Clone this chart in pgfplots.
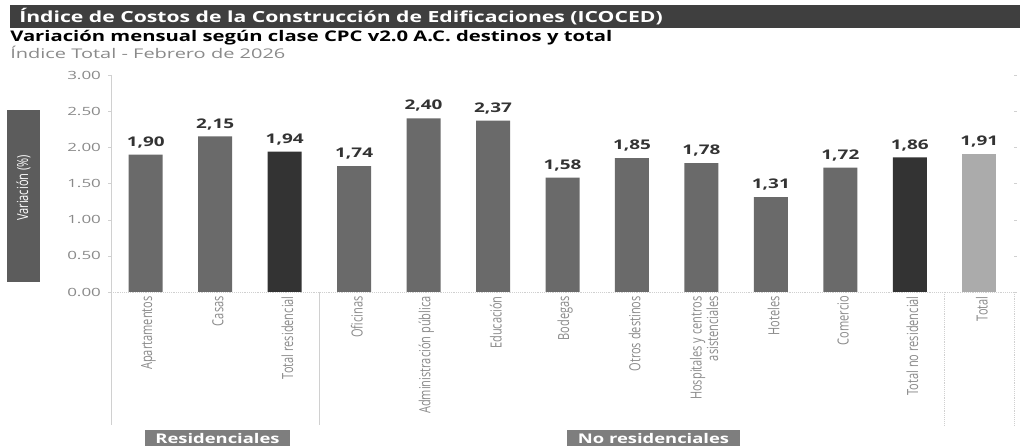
\documentclass[border=0pt]{standalone}
\usepackage{fontspec}
\setmainfont{Open Sans}
\newfontfamily\condfont[FakeStretch=0.72]{Open Sans}
\newfontfamily\wideA[FakeStretch=1.38]{Open Sans}
\newfontfamily\wideB[FakeStretch=1.5]{Open Sans}
\newfontfamily\wideC[FakeStretch=1.42]{Open Sans}
\usepackage{pgfplots}
\pgfplotsset{compat=1.18}
\definecolor{barmid}{HTML}{6A6A6A}
\definecolor{bardark}{HTML}{333333}
\definecolor{barlight}{HTML}{ABABAB}
\definecolor{titlebar}{HTML}{3F3F3F}
\definecolor{boxgray}{HTML}{5C5C5C}
\definecolor{grpgray}{HTML}{7E7E7E}
\definecolor{ticktext}{HTML}{8A8A8A}
\definecolor{sepline}{HTML}{D0D0D0}
\begin{document}
\begin{tikzpicture}
\useasboundingbox (0,0) rectangle (765pt,-336pt);
% title bar
\fill[titlebar] ({10*0.75pt},{-5*0.75pt}) rectangle ({1020*0.75pt},{-28*0.75pt});
\node[anchor=west,text=white,font=\wideA\bfseries\fontsize{11.5pt}{12pt}\selectfont,inner sep=0pt] at ({19*0.75pt},{-16.5*0.75pt}) {Índice de Costos de la Construcción de Edificaciones (ICOCED)};
\node[anchor=west,text=black,font=\wideA\bfseries\fontsize{11pt}{12pt}\selectfont,inner sep=0pt] at ({10*0.75pt},{-38*0.75pt}) {Variación mensual según clase CPC v2.0 A.C. destinos y total};
\node[anchor=west,text=ticktext,font=\wideB\fontsize{10pt}{11pt}\selectfont,inner sep=0pt] at ({10*0.75pt},{-52*0.75pt}) {Índice Total - Febrero de 2026};
% y label box
\fill[boxgray] ({7*0.75pt},{-110*0.75pt}) rectangle ({40*0.75pt},{-282*0.75pt});
\node[rotate=90,text=white,font=\condfont\fontsize{11.5pt}{12pt}\selectfont,inner sep=0pt] at ({23.5*0.75pt},{-188*0.75pt}) {Variación (\%)};
% group boxes
\fill[grpgray] ({145*0.75pt},{-430*0.75pt}) rectangle ({290*0.75pt},{-446*0.75pt});
\node[text=white,font=\wideA\bfseries\fontsize{10pt}{11pt}\selectfont,inner sep=0pt] at ({217.5*0.75pt},{-438*0.75pt}) {Residenciales};
\fill[grpgray] ({567*0.75pt},{-430*0.75pt}) rectangle ({740*0.75pt},{-446*0.75pt});
\node[text=white,font=\wideA\bfseries\fontsize{10pt}{11pt}\selectfont,inner sep=0pt] at ({653.5*0.75pt},{-438*0.75pt}) {No residenciales};
\begin{axis}[
  at={({111*0.75pt},{-292*0.75pt})}, anchor=south west,
  scale only axis, width={903*0.75pt}, height={217*0.75pt},
  xmin=-0.5, xmax=12.5, ymin=0, ymax=3,
  ybar, bar width={34*0.75pt},
  axis line style={draw=none},
  clip=false,
  xtick={0,1,2,3,4,5,6,7,8,9,10,11,12},
  xticklabels={Apartamentos,Casas,Total residencial,Oficinas,Administración pública,Educación,Bodegas,Otros destinos,{Hospitales y centros\\asistenciales},Hoteles,Comercio,Total no residencial,Total},
  xticklabel style={rotate=90,anchor=east,align=right,font=\condfont\fontsize{11.5pt}{11pt}\selectfont,text=ticktext,inner sep=1pt,xshift=0pt,yshift=-2pt},
  xtick style={draw=none},
  ytick={0,0.5,1,1.5,2,2.5,3},
  yticklabels={0.00,0.50,1.00,1.50,2.00,2.50,3.00},
  yticklabel style={font=\wideB\fontsize{8.5pt}{9pt}\selectfont,text=ticktext,xshift=-2pt},
  ytick style={draw=sepline},
  tick align=outside, major tick length=2pt,
  nodes near coords,
  every node near coord/.append style={font=\wideC\bfseries\fontsize{10pt}{11pt}\selectfont,text=black!80,yshift=1.5pt},
  /pgf/number format/.cd, use comma, fixed, fixed zerofill, precision=2, assume math mode=true,
]
\addplot[fill=barmid,draw=none,bar shift=0pt] coordinates {(0,1.90) (1,2.15) (3,1.74) (4,2.40) (5,2.37) (6,1.58) (7,1.85) (8,1.78) (9,1.31) (10,1.72)};
\addplot[fill=bardark,draw=none,bar shift=0pt] coordinates {(2,1.94) (11,1.86)};
\addplot[fill=barlight,draw=none,bar shift=0pt] coordinates {(12,1.91)};
% axis lines and separators
\draw[sepline] (axis cs:-0.5,3) -- (axis cs:-0.5,-1.84);
\draw[sepline,densely dotted] (axis cs:-0.5,0) -- (axis cs:12.5,0);
\draw[sepline] (axis cs:2.5,0) -- (axis cs:2.5,-1.84);
\draw[sepline,densely dotted] (axis cs:11.5,0) -- (axis cs:11.5,-1.84);
\draw[sepline,densely dotted] (axis cs:12.5,0) -- (axis cs:12.5,-1.84);
\end{axis}
\end{tikzpicture}
\end{document}
